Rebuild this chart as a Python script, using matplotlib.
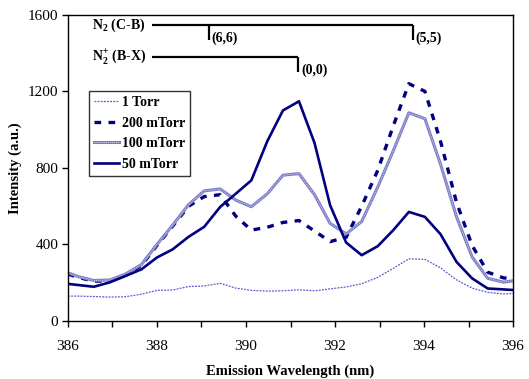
import matplotlib
matplotlib.use("Agg")
import matplotlib.pyplot as plt
from matplotlib.legend_handler import HandlerTuple

wavelength = [386.0, 386.23, 386.58, 386.94, 387.29, 387.65, 388.00, 388.35, 388.71, 389.06,
              389.42, 389.77, 390.12, 390.48, 390.83, 391.19, 391.54, 391.89, 392.25, 392.60,
              392.96, 393.31, 393.66, 394.02, 394.37, 394.73, 395.08, 395.43, 395.79, 396.0]

torr_1 = [130, 130, 128, 125, 127, 140, 160, 162, 180, 183,
          197, 172, 160, 156, 158, 163, 158, 168, 178, 195,
          228, 275, 325, 322, 278, 215, 172, 150, 141, 144]

mtorr_200 = [245, 228, 208, 210, 240, 290, 395, 495, 600, 650,
             660, 548, 475, 490, 515, 525, 470, 415, 437, 600,
             787, 1020, 1240, 1200, 940, 620, 395, 255, 225, 223]

mtorr_100 = [252, 232, 212, 214, 245, 295, 400, 500, 608, 680,
             690, 632, 597, 665, 762, 770, 660, 510, 455, 520,
             700, 890, 1088, 1057, 820, 545, 335, 223, 203, 210]

mtorr_50 = [194, 188, 179, 202, 235, 270, 332, 374, 440, 492,
            596, 665, 735, 940, 1100, 1148, 930, 605, 410, 344,
            391, 475, 570, 544, 454, 309, 223, 170, 165, 162]

labels = ["1 Torr", "200 mTorr", "100 mTorr", "50 mTorr"]
x_ticks = [386, 388, 390, 392, 394, 396]
y_ticks = [0, 400, 800, 1200, 1600]

plt.rcParams['font.family'] = ['Liberation Serif', 'DejaVu Serif']
plt.rcParams['mathtext.fontset'] = 'custom'
plt.rcParams['mathtext.rm'] = 'Liberation Serif'
plt.rcParams['mathtext.bf'] = 'Liberation Serif:bold'

fig = plt.figure(figsize=(5.29, 3.79), dpi=100)
ax = fig.add_axes([0.1285, 0.153, 0.8413, 0.808])

navy = '#000080'
light = '#7b7bc4'

l1, = ax.plot(wavelength, torr_1, color='#5a5ad0', lw=0.9, ls=(0, (1.5, 1)))
l2, = ax.plot(wavelength, mtorr_200, color=navy, lw=2.4, ls=(0, (2.0, 2.2)), dash_capstyle='butt')
l3a, = ax.plot(wavelength, mtorr_100, color=light, lw=2.2)
l3b, = ax.plot(wavelength, mtorr_100, color='#d4d4ee', lw=0.7, ls=(0, (1, 1)))
l4, = ax.plot(wavelength, mtorr_50, color=navy, lw=1.9)

ax.set_xlim(386, 396)
ax.set_ylim(0, 1600)
ax.set_xticks(x_ticks)
ax.set_xticks([387, 389, 391, 393, 395], minor=True)
ax.set_yticks(y_ticks)
ax.tick_params(axis='both', direction='out', length=4, width=1, labelsize=11, pad=3)
ax.tick_params(axis='x', which='minor', direction='out', length=4, width=1)
ax.tick_params(axis='x', pad=10)
for s in ax.spines.values():
    s.set_linewidth(1.0)
    s.set_color('black')

ax.set_xlabel('Emission Wavelength (nm)', fontsize=10.5, fontweight='bold', labelpad=8)
ax.set_ylabel('Intensity (a.u.)', fontsize=10.5, fontweight='bold', labelpad=4)

leg = ax.legend([l1, l2, (l3a, l3b), l4], labels,
                handler_map={tuple: HandlerTuple(ndivide=1)},
                loc='upper left', bbox_to_anchor=(0.047, 0.751),
                prop={'weight': 'bold', 'size': 10}, frameon=True, fancybox=False,
                edgecolor='black', handlelength=1.85, handletextpad=0.2,
                labelspacing=0.55, borderpad=0.35, borderaxespad=0)
leg.get_frame().set_linewidth(1.0)

# Band annotations
ax.plot([387.88, 393.76], [1545, 1545], color='black', lw=1.6, solid_capstyle='butt')
ax.plot([389.17, 389.17], [1545, 1470], color='black', lw=1.6, solid_capstyle='butt')
ax.plot([393.76, 393.76], [1545, 1470], color='black', lw=1.6, solid_capstyle='butt')
ax.plot([387.88, 391.17], [1378, 1378], color='black', lw=1.6, solid_capstyle='butt')
ax.plot([391.17, 391.17], [1378, 1300], color='black', lw=1.6, solid_capstyle='butt')

ax.text(386.55, 1545, r'N$_\mathbf{2}$ (C-B)', fontsize=10, fontweight='bold', va='center', ha='left')
ax.text(386.55, 1378, r'N$_\mathbf{2}^\mathbf{+}$ (B-X)', fontsize=10, fontweight='bold', va='center', ha='left')
ax.text(389.22, 1476, '(6,6)', fontsize=10, fontweight='bold', va='center', ha='left')
ax.text(393.81, 1476, '(5,5)', fontsize=10, fontweight='bold', va='center', ha='left')
ax.text(391.24, 1312, '(0,0)', fontsize=10, fontweight='bold', va='center', ha='left')

fig.savefig('out.png', dpi=100)
